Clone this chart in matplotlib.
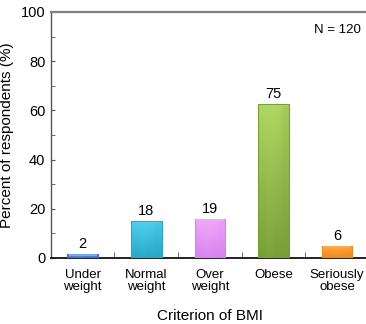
import numpy as np
import matplotlib
matplotlib.use("Agg")
import matplotlib.pyplot as plt
from matplotlib.colors import LinearSegmentedColormap

plt.rcParams['font.family'] = ['Liberation Sans', 'DejaVu Sans']

categories = ["Under\nweight", "Normal\nweight", "Over\nweight", "Obese", "Seriously\nobese"]
counts = [2, 18, 19, 75, 6]
n_total = 120
percent = [c / n_total * 100 for c in counts]

# light top -> darker base for each bar
top_colors = ["#7aa6ee", "#4fd0ee", "#f0a8fb", "#b0d663", "#ffab48"]
base_colors = ["#3a6fd2", "#2aa6c6", "#d982ee", "#789e38", "#f0881a"]

fig = plt.figure(figsize=(3.66, 3.24), dpi=100)
ax = fig.add_axes([0.139, 0.204, 0.869, 0.759])

x = np.arange(len(categories))
bars = ax.bar(x, percent, width=0.48, color=base_colors, edgecolor="none", zorder=2)

for b, c_top, c_base, cnt in zip(bars, top_colors, base_colors, counts):
    x0, y0 = b.get_x(), b.get_y()
    w, h = b.get_width(), b.get_height()
    cmap = LinearSegmentedColormap.from_list("g", [c_base, c_top])
    grad = np.linspace(0, 1, 64).reshape(-1, 1)
    grad = np.hstack([grad, grad * 0.9 + 0.1, grad, grad * 0.8])
    im = ax.imshow(grad, cmap=cmap, extent=[x0, x0 + w, y0, y0 + h],
                   origin="lower", aspect="auto", zorder=3, vmin=0, vmax=1)
    im.set_clip_path(b)
    # bevelled rim
    ax.add_patch(plt.Rectangle((x0, y0), w, h, fill=False, edgecolor=c_base,
                               linewidth=0.8, zorder=4))
    ax.add_patch(plt.Rectangle((x0 + 0.02, y0 + h - 0.9), w - 0.04, 0.7,
                               facecolor=c_top, edgecolor="none", zorder=4))
    ax.text(b.get_x() + w / 2, h + 1.2, str(cnt), ha="center", va="bottom",
            fontsize=10.5, zorder=5)

ax.set_xlim(-0.5, len(categories) - 0.5)
ax.set_ylim(0, 100)

ax.set_yticks(np.arange(0, 101, 20))
ax.set_yticks(np.arange(10, 100, 20), minor=True)
ax.set_xticks(x)
ax.set_xticklabels(categories, fontsize=9.5, linespacing=1.05)
ax.set_xticks(np.arange(0.5, len(categories) - 0.5, 1), minor=True)
ax.tick_params(axis="y", which="both", direction="in", length=3, labelsize=10.5, pad=4, color="#555555")
ax.tick_params(axis="x", which="major", length=0, pad=8)
ax.tick_params(axis="x", which="minor", direction="in", length=4, color="#555555")

ax.spines["right"].set_visible(False)
ax.spines["top"].set_color("#808080")
ax.spines["top"].set_linewidth(1.6)
ax.spines["left"].set_color("#555555")
ax.spines["left"].set_linewidth(1.0)
ax.spines["bottom"].set_color("#111111")
ax.spines["bottom"].set_linewidth(1.3)

ax.set_ylabel("Percent of respondents (%)", fontsize=11, labelpad=5)
ax.set_xlabel("Criterion of BMI", fontsize=11, labelpad=11)
ax.text(0.975, 0.925, "N = 120", transform=ax.transAxes, ha="right", va="center", fontsize=9.5)

fig.savefig("out.png", dpi=100)
